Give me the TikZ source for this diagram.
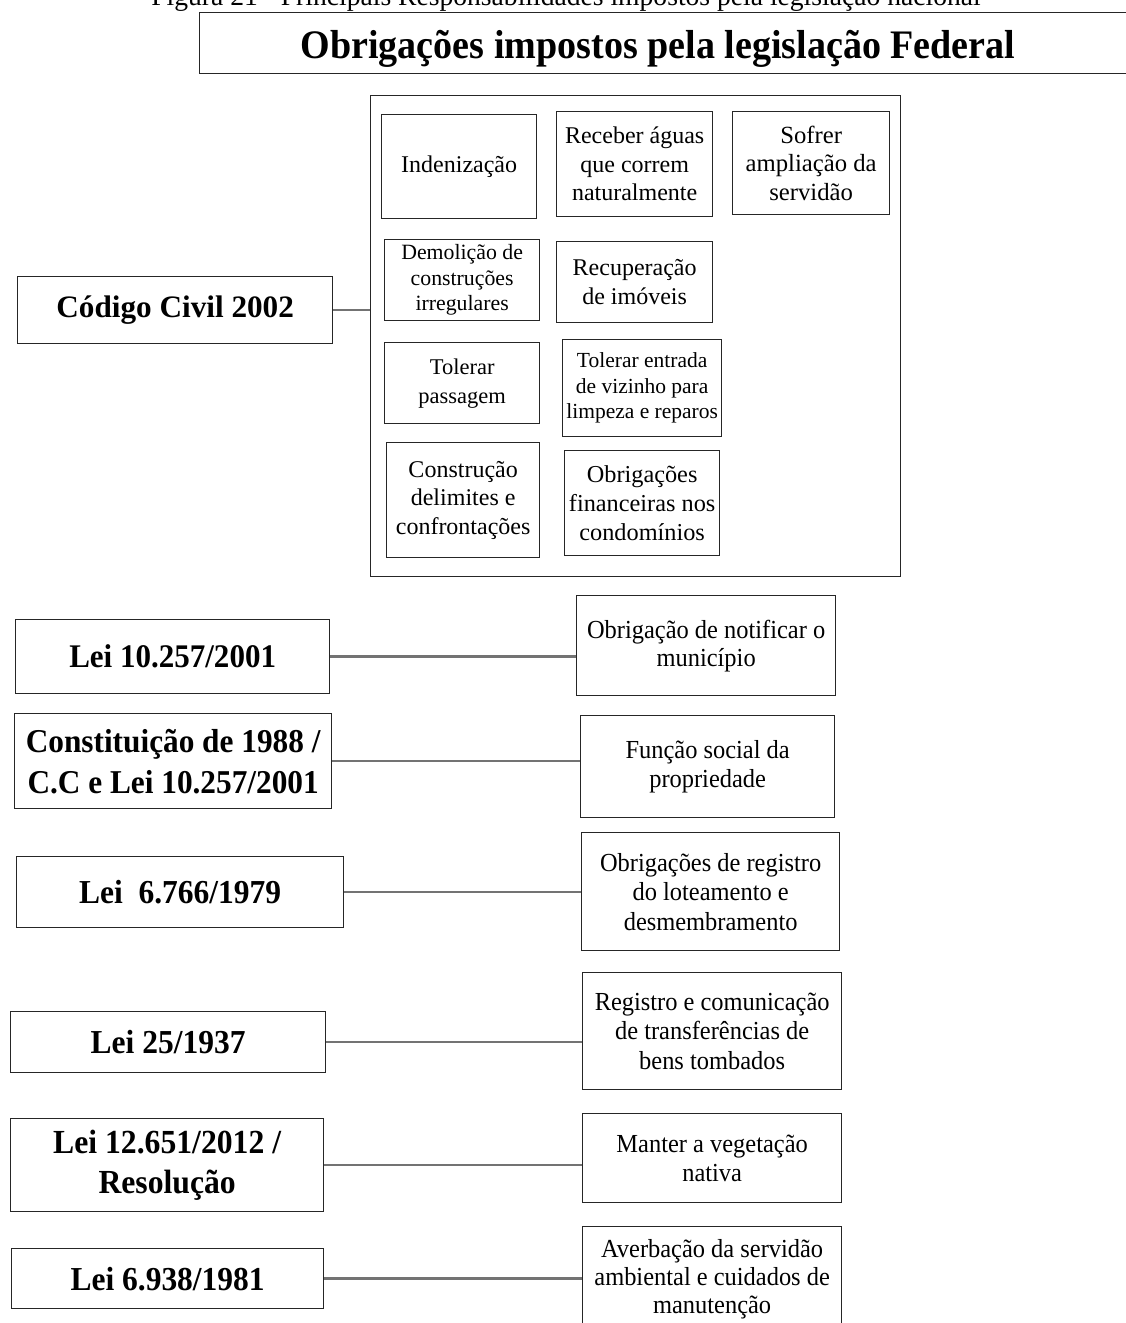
\documentclass[tikz,border=0pt]{standalone}
\usepackage{fontspec}
\setmainfont{Liberation Serif}
\newfontfamily\condfont{Liberation Serif}[FakeStretch=0.94]
\begin{document}
\begin{tikzpicture}[x=1pt,y=-1pt,
  box/.style={draw=black!85, line width=1.3pt, align=center, inner sep=0pt, anchor=north west},
  inner/.style={box, font=\fontsize{24}{28.5}\selectfont},
  law/.style={box, font=\condfont\bfseries\fontsize{33.5}{39}\selectfont},
  duty/.style={box, font=\condfont\fontsize{26}{29.5}\selectfont},
  conn/.style={draw=black!55, line width=2.4pt}]
\clip (0,0) rectangle (1126,1323);
\fill[white] (0,0) rectangle (1126,1323);

% caption and title
\node[anchor=base, font=\fontsize{27.6}{33}\selectfont] (cap) at (566,5)
  {Figura 21 - Principais Responsabilidades impostos pela legislação nacional};
\node[box, minimum width=936pt, minimum height=61pt] (tbox) at (199,12) {};
\node[anchor=base, font=\condfont\bfseries\fontsize{40.5}{48}\selectfont] (title) at (658,58)
  {Obrigações impostos pela legislação Federal};

% Código Civil group
\node[box, minimum width=530pt, minimum height=481pt] (big) at (370,95) {};
\node[box, font=\bfseries\fontsize{31.2}{36}\selectfont, minimum width=315pt, minimum height=67pt] (cc) at (17,276) {Código Civil 2002};
\draw[conn] (cc.east) -- (cc.east -| big.west);

\node[inner, minimum width=155pt, minimum height=104pt] (ind) at (381,114) {Indenização};
\node[inner, minimum width=156pt, minimum height=105pt] (rec) at (556,111) {Receber águas\\que correm\\naturalmente};
\node[inner, font=\fontsize{24.7}{28.5}\selectfont, minimum width=157pt, minimum height=103pt] (sof) at (732,111) {Sofrer\\ampliação da\\servidão};
\node[box, font=\fontsize{21.8}{25.5}\selectfont, minimum width=155pt, minimum height=81pt] (dem) at (384,239) {Demolição de\\construções\\irregulares};
\node[inner, minimum width=156pt, minimum height=81pt] (recu) at (556,241) {Recuperação\\de imóveis};
\node[inner, font=\fontsize{22.5}{29}\selectfont, minimum width=155pt, minimum height=81pt] (tpas) at (384,342) {Tolerar\\passagem};
\node[box, font=\fontsize{21.5}{25.5}\selectfont, minimum width=159pt, minimum height=97pt] (tent) at (562,339) {Tolerar entrada\\de vizinho para\\limpeza e reparos};
\node[inner, minimum width=153pt, minimum height=115pt] (cons) at (386,442) {Construção\\delimites e\\confrontações};
\node[inner, font=\fontsize{24.3}{29}\selectfont, minimum width=155pt, minimum height=105pt] (fin) at (564,450) {Obrigações\\financeiras nos\\condomínios};

% other laws and their duties
\node[law, font=\condfont\bfseries\fontsize{33}{39}\selectfont, minimum width=314pt, minimum height=74pt] (l1) at (15,619) {Lei 10.257/2001};
\node[duty, font=\condfont\fontsize{26}{28}\selectfont, minimum width=259pt, minimum height=100pt] (r1) at (576,595) {Obrigação de notificar o\\município};
\draw[conn] (l1.east) -- (l1.east -| r1.west);

\node[law, font=\condfont\bfseries\fontsize{33.3}{41}\selectfont, minimum width=317pt, minimum height=95pt] (l2) at (14,713) {Constituição de 1988 /\\C.C e Lei 10.257/2001};
\node[duty, minimum width=254pt, minimum height=102pt] (r2) at (580,715) {Função social da\\propriedade};
\draw[conn] (l2.east) -- (l2.east -| r2.west);

\node[law, minimum width=327pt, minimum height=71pt] (l3) at (16,856) {Lei\ \ 6.766/1979};
\node[duty, minimum width=258pt, minimum height=118pt] (r3) at (581,832) {Obrigações de registro\\do loteamento e\\desmembramento};
\draw[conn] (l3.east) -- (l3.east -| r3.west);

\node[law, minimum width=315pt, minimum height=61pt] (l4) at (10,1011) {Lei 25/1937};
\node[duty, minimum width=259pt, minimum height=117pt] (r4) at (582,972) {Registro e comunicação\\de transferências de\\bens tombados};
\draw[conn] (l4.east) -- (l4.east -| r4.west);

\node[law, font=\condfont\bfseries\fontsize{33.7}{40}\selectfont, minimum width=313pt, minimum height=93pt] (l5) at (10,1118) {Lei 12.651/2012 /\\Resolução};
\node[duty, minimum width=259pt, minimum height=89pt] (r5) at (582,1113) {Manter a vegetação\\nativa};
\draw[conn] (l5.east) -- (l5.east -| r5.west);

\node[law, minimum width=312pt, minimum height=60pt] (l6) at (11,1248) {Lei 6.938/1981};
\node[duty, font=\condfont\fontsize{26}{28}\selectfont, minimum width=259pt, minimum height=106pt] (r6) at (582,1226) {Averbação da servidão\\ambiental e cuidados de\\manutenção};
\draw[conn] (l6.east) -- (l6.east -| r6.west);
\end{tikzpicture}
\end{document}
